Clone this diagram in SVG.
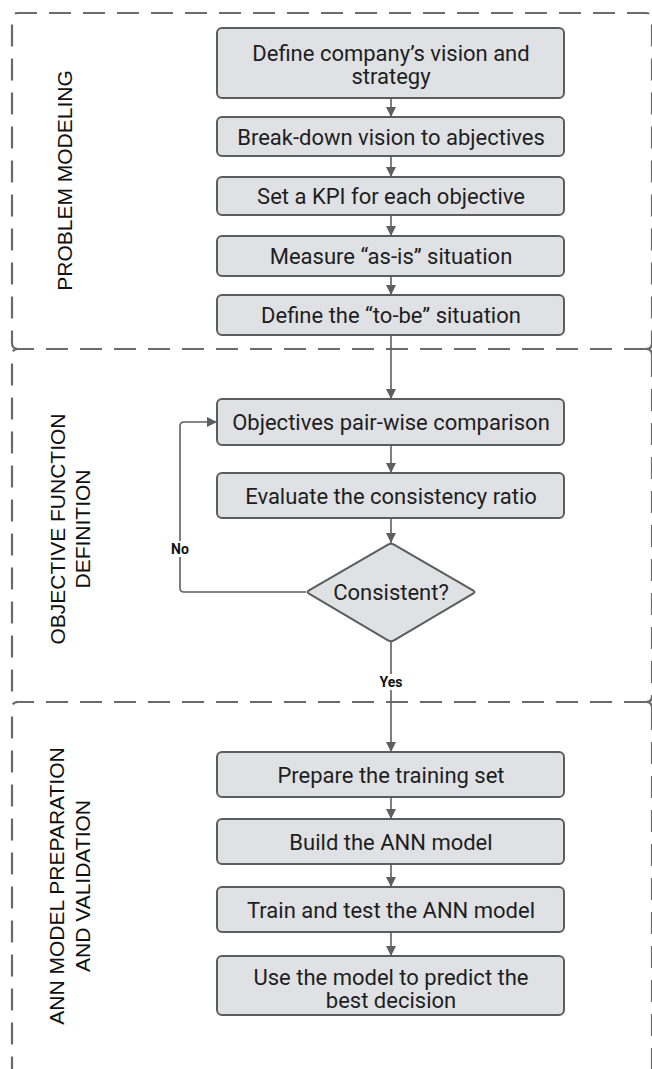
<svg xmlns="http://www.w3.org/2000/svg" width="652" height="1069" viewBox="0 0 652 1069">
<defs>
<style>
.sec{fill:none;stroke:#6b6b6b;stroke-width:2.2;stroke-dasharray:22 12}
.box{fill:#dfe1e5;stroke:#5c5c5c;stroke-width:2}
.t{font-family:Roboto,"Liberation Sans",sans-serif;font-size:22px;fill:#1e1e1e;text-anchor:middle}
.lab{font-family:"Liberation Sans",Arial,sans-serif;font-size:21px;fill:#111;text-anchor:middle}
.yn{font-family:Roboto,"Liberation Sans",sans-serif;font-size:14px;font-weight:bold;fill:#111;text-anchor:middle}
.c{fill:none;stroke:#5f5f5f;stroke-width:1.6}
</style>
<marker id="ah" viewBox="0 0 10 10" refX="10" refY="5" markerWidth="10" markerHeight="10" markerUnits="userSpaceOnUse" orient="auto">
<path d="M0,0 L10,5 L0,10 z" fill="#5f5f5f"/>
</marker>
</defs>
<rect width="652" height="1069" fill="#ffffff"/>

<g id="sections">
<path class="sec" d="M18 349 Q12 349 12 343 L12 19 Q12 13 18 13 L646 13 Q652 13 652 19 L652 343 Q652 349 646 349"/>
<path class="sec" d="M646 349 L18 349 Q12 349 12 355 L12 696 Q12 702 18 702 M652 355 Q652 349 646 349 M652 355 L652 696 Q652 702 646 702"/>
<path class="sec" d="M646 702 L18 702 Q12 702 12 708 L12 1080 M652 708 Q652 702 646 702 M652 708 L652 1080"/>
</g>

<g id="label-problem-modeling">
<text class="lab" transform="translate(72,180.5) rotate(-90)">PROBLEM MODELING</text>
</g>
<g id="label-objective-function">
<text class="lab" transform="translate(65,529) rotate(-90)">OBJECTIVE FUNCTION</text>
<text class="lab" transform="translate(90,529) rotate(-90)">DEFINITION</text>
</g>
<g id="label-ann">
<text class="lab" transform="translate(64,886) rotate(-90)">ANN MODEL PREPARATION</text>
<text class="lab" transform="translate(90,886) rotate(-90)">AND VALIDATION</text>
</g>

<g id="connectors">
<line class="c" x1="391" y1="98" x2="391" y2="117" marker-end="url(#ah)"/>
<line class="c" x1="391" y1="156" x2="391" y2="177" marker-end="url(#ah)"/>
<line class="c" x1="391" y1="215" x2="391" y2="236" marker-end="url(#ah)"/>
<line class="c" x1="391" y1="276" x2="391" y2="295" marker-end="url(#ah)"/>
<line class="c" x1="391" y1="335" x2="391" y2="399" marker-end="url(#ah)"/>
<line class="c" x1="391" y1="445" x2="391" y2="473" marker-end="url(#ah)"/>
<line class="c" x1="391" y1="518" x2="391" y2="543" marker-end="url(#ah)"/>
<line class="c" x1="391" y1="642" x2="391" y2="752" marker-end="url(#ah)"/>
<line class="c" x1="391" y1="797" x2="391" y2="819" marker-end="url(#ah)"/>
<line class="c" x1="391" y1="864" x2="391" y2="887" marker-end="url(#ah)"/>
<line class="c" x1="391" y1="932" x2="391" y2="956" marker-end="url(#ah)"/>
<path class="c" d="M306 592 L184 592 Q180 592 180 588 L180 426 Q180 422 184 422 L217 422" marker-end="url(#ah)"/>
<rect x="170" y="541" width="20" height="16" fill="#ffffff"/>
<text class="yn" x="180" y="554">No</text>
<rect x="378" y="674" width="26" height="16" fill="#ffffff"/>
<text class="yn" x="391" y="687">Yes</text>
</g>

<g id="n1"><rect class="box" x="217" y="28" width="347" height="70" rx="5"/>
<text class="t" x="391" y="61">Define company’s vision and</text><text class="t" x="391" y="84">strategy</text></g>
<g id="n2"><rect class="box" x="217" y="117" width="347" height="39" rx="5"/>
<text class="t" x="391" y="145">Break-down vision to abjectives</text></g>
<g id="n3"><rect class="box" x="217" y="177" width="347" height="38" rx="5"/>
<text class="t" x="391" y="204">Set a KPI for each objective</text></g>
<g id="n4"><rect class="box" x="217" y="236" width="347" height="40" rx="5"/>
<text class="t" x="391" y="264">Measure “as-is” situation</text></g>
<g id="n5"><rect class="box" x="217" y="295" width="347" height="40" rx="5"/>
<text class="t" x="391" y="323">Define the “to-be” situation</text></g>
<g id="n6"><rect class="box" x="217" y="399" width="347" height="46" rx="5"/>
<text class="t" x="391" y="430">Objectives pair-wise comparison</text></g>
<g id="n7"><rect class="box" x="217" y="473" width="347" height="45" rx="5"/>
<text class="t" x="391" y="503.5">Evaluate the consistency ratio</text></g>
<g id="n-decision"><path class="box" d="M388 544.7 Q391 543 394 544.7 L473 590.3 Q476 592 473 593.7 L394 640.3 Q391 642 388 640.3 L309 593.7 Q306 592 309 590.3 Z"/>
<text class="t" x="391" y="600">Consistent?</text></g>
<g id="n8"><rect class="box" x="217" y="752" width="347" height="45" rx="5"/>
<text class="t" x="391" y="782.5">Prepare the training set</text></g>
<g id="n9"><rect class="box" x="217" y="819" width="347" height="45" rx="5"/>
<text class="t" x="391" y="849.5">Build the ANN model</text></g>
<g id="n10"><rect class="box" x="217" y="887" width="347" height="45" rx="5"/>
<text class="t" x="391" y="917.5">Train and test the ANN model</text></g>
<g id="n11"><rect class="box" x="217" y="956" width="347" height="59" rx="5"/>
<text class="t" x="391" y="985">Use the model to predict the</text><text class="t" x="391" y="1008">best decision</text></g>
</svg>
